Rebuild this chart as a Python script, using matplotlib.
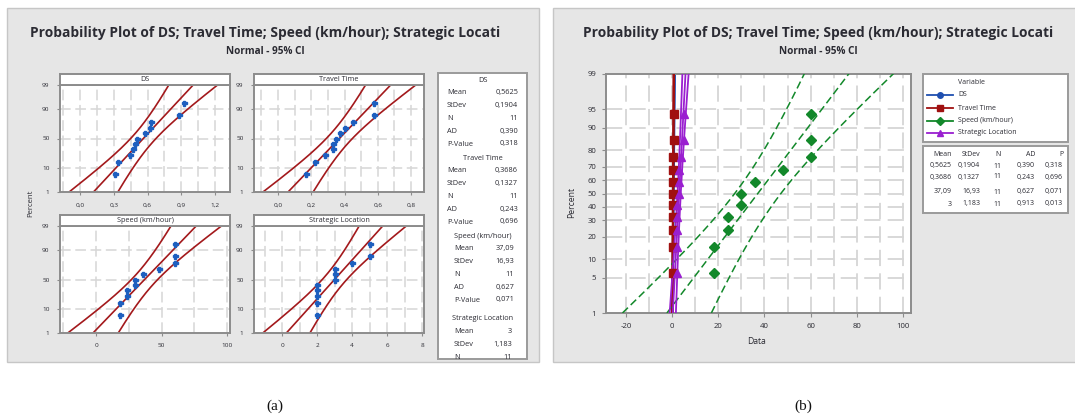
import matplotlib
matplotlib.use("Agg")
import matplotlib.pyplot as plt
from matplotlib.patches import Rectangle
from matplotlib.lines import Line2D
from statistics import NormalDist
import numpy as np

plt.rcParams['font.family'] = ['Open Sans', 'DejaVu Sans']

# ---------------- data ----------------
title = "Probability Plot of DS; Travel Time; Speed (km/hour); Strategic Locati"
subtitle = "Normal - 95% CI"
variables = ["DS", "Travel Time", "Speed (km/hour)", "Strategic Location"]
ds_values = [0.31, 0.335, 0.44, 0.47, 0.49, 0.51, 0.575, 0.62, 0.63, 0.88, 0.925]
travel_values = [0.17, 0.22, 0.28, 0.33, 0.33, 0.35, 0.37, 0.40, 0.45, 0.58, 0.58]
speed_values = [18, 18, 24, 24, 30, 30, 36, 48, 60, 60, 60]
strategic_values = [2, 2, 2, 2, 2, 3, 3, 3, 4, 5, 5]
percent_positions = [6.1, 14.9, 23.7, 32.5, 41.2, 50.0, 58.8, 67.5, 76.3, 85.1, 93.9]
means = [0.5625, 0.3686, 37.09, 3.0]
stdevs = [0.1904, 0.1327, 16.93, 1.183]
n_obs = [11, 11, 11, 11]
mean_labels = ["0,5625", "0,3686", "37,09", "3"]
stdev_labels = ["0,1904", "0,1327", "16,93", "1,183"]
ad_labels = ["0,390", "0,243", "0,627", "0,913"]
p_labels = ["0,318", "0,696", "0,071", "0,013"]
small_xticks = [[0, 0.3, 0.6, 0.9, 1.2], [0, 0.2, 0.4, 0.6, 0.8], [0, 50, 100], [0, 2, 4, 6, 8]]
small_xticklabels = [["0,0", "0,3", "0,6", "0,9", "1,2"], ["0,0", "0,2", "0,4", "0,6", "0,8"],
                     ["0", "50", "100"], ["0", "2", "4", "6", "8"]]
small_yticks = [1, 10, 50, 90, 99]
big_yticks = [1, 5, 10, 20, 30, 40, 50, 60, 70, 80, 90, 95, 99]
big_xticks = [-20, 0, 20, 40, 60, 80, 100]
series_values = [ds_values, travel_values, speed_values, strategic_values]

# ---------------- helpers ----------------
W, H = 1075, 420
fig = plt.figure(figsize=(W / 100, H / 100), dpi=100)
nd = NormalDist()


def zq(p):
    return nd.inv_cdf(p / 100.0)


ZLO, ZHI = zq(1), zq(99)
TXT = '#2b2b33'
SPINE = '#8c8c8c'
GRID = '#d6d6d6'


def px_axes(x0, y0, x1, y1, **kw):
    return fig.add_axes([x0 / W, 1 - y1 / H, (x1 - x0) / W, (y1 - y0) / H], **kw)


def fit_and_ci(mean, sd, n, zhi=None):
    zz = np.linspace(ZLO, ZHI if zhi is None else zhi, 200)
    fit = mean + sd * zz
    half = 1.96 * sd * np.sqrt(1.0 / n + zz ** 2 / (2.0 * n))
    return zz, fit, fit - half, fit + half


# background layer in pixel coordinates
bg = fig.add_axes([0, 0, 1, 1])
bg.set_xlim(0, W)
bg.set_ylim(H, 0)
bg.axis('off')
bg.add_patch(Rectangle((7, 8), 532, 354, fc='#e6e6e6', ec='#c6c6c6', lw=1))
bg.add_patch(Rectangle((553, 8), 540, 354, fc='#e6e6e6', ec='#c6c6c6', lw=1))

for cx in (265, 818):
    bg.text(cx, 33, title, ha='center', va='center', fontsize=9.9, weight='bold', color=TXT)
    bg.text(cx, 51, subtitle, ha='center', va='center', fontsize=7.2, weight='bold', color=TXT)

bg.text(275, 406, "(a)", ha='center', va='center', fontsize=11, family='Liberation Serif', color='#111111')
bg.text(803, 406, "(b)", ha='center', va='center', fontsize=11, family='Liberation Serif', color='#111111')

# ---------------- panel (a) ----------------
small_boxes = [(60, 85, 230, 192), (254, 85, 424, 192), (60, 226, 230, 333), (254, 226, 424, 333)]
small_xlims = [(-0.178, 1.333), (-0.145, 0.878), (-27.5, 102.3), (-1.6, 8.11)]
for i, (x0, y0, x1, y1) in enumerate(small_boxes):
    ax = px_axes(x0, y0, x1, y1)
    ax.set_facecolor('white')
    ax.set_xlim(*small_xlims[i])
    ax.set_ylim(ZLO, ZHI)
    ticks = small_xticks[i]
    step = (ticks[1] - ticks[0]) / 2
    gx = np.arange(ticks[0] - 2 * step, ticks[-1] + 2 * step + 1e-9, step)
    for g in gx:
        ax.axvline(g, color=GRID, lw=1.1, ls=(0, (7, 3)), zorder=0)
    for p in small_yticks[1:-1]:
        ax.axhline(zq(p), color=GRID, lw=1.1, ls=(0, (7, 3)), zorder=0)
    zz, fit, lo, hi = fit_and_ci(means[i], stdevs[i], n_obs[i])
    for arr in (fit, lo, hi):
        ax.plot(arr, zz, color='#a3191c', lw=1.2, zorder=2)
    ax.plot(series_values[i], [zq(p) for p in percent_positions], ls='none', marker='P',
            ms=3.6, color='#1d5fbf', mec='#1d5fbf', zorder=3)
    ax.set_xticks(ticks)
    ax.set_xticklabels(small_xticklabels[i])
    ax.set_yticks([zq(p) for p in small_yticks])
    ax.set_yticklabels([str(p) for p in small_yticks])
    ax.tick_params(labelsize=4.6, colors=SPINE, labelcolor=TXT, length=2.5, width=0.8, pad=5)
    for s in ax.spines.values():
        s.set_color(SPINE)
        s.set_linewidth(1.4)
    # strip header
    sx = px_axes(x0, y0 - 11, x1, y0)
    sx.set_facecolor('white')
    sx.set_xticks([])
    sx.set_yticks([])
    for s in sx.spines.values():
        s.set_color(SPINE)
        s.set_linewidth(1.4)
    sx.text(0.5, 0.5, variables[i], transform=sx.transAxes, ha='center', va='center',
            fontsize=5.2, color=TXT)

bg.text(31, 203, "Percent", rotation=90, ha='center', va='center', fontsize=5.6, color=TXT)

# stats box (a)
boxA = Rectangle((438, 73), 89, 286, fc='white', ec='#9a9a9a', lw=1.4)
bg.add_patch(boxA)
section_y = [80, 158, 236, 319]
label_x = [447, 447, 454, 454]
value_x = [518, 518, 514, 512]
row_names = ["Mean", "StDev", "N", "AD", "P-Value"]
for i in range(4):
    t = bg.text(483, section_y[i], variables[i], ha='center', va='center', fontsize=5.3, color=TXT)
    vals = [mean_labels[i], stdev_labels[i], str(n_obs[i]), ad_labels[i], p_labels[i]]
    for k, (nm, v) in enumerate(zip(row_names, vals)):
        y = section_y[i] + 12.6 * (k + 1) + (1 if k >= 2 else 0)
        if y > 362:
            continue
        t1 = bg.text(label_x[i], y, nm, ha='left', va='center', fontsize=5.3, color=TXT)
        t2 = bg.text(value_x[i], y, v, ha='right', va='center', fontsize=5.3, color=TXT)
        t1.set_clip_path(boxA)
        t2.set_clip_path(boxA)

# ---------------- panel (b) ----------------
colors = ['#1f4fb0', '#a01010', '#12882a', '#9a1fd0']
markers = ['o', 's', 'D', '^']
lstyles = ['-', '-', (0, (5, 2.5)), '-']
msizes = [4.5, 5.5, 5.0, 5.5]

axb = px_axes(606, 74, 911, 313)
axb.set_facecolor('white')
axb.set_xlim(-28.7, 103.5)
axb.set_ylim(ZLO, ZHI)
for g in np.arange(-30, 110, 10):
    axb.axvline(g, color=GRID, lw=1.3, ls=(0, (9, 4)), zorder=0)
for p in big_yticks[1:-1]:
    axb.axhline(zq(p), color=GRID, lw=1.3, ls=(0, (9, 4)), zorder=0)
for i in range(4):
    zz, fit, lo, hi = fit_and_ci(means[i], stdevs[i], n_obs[i], zhi=2.6)
    for arr in (fit, lo, hi):
        axb.plot(arr, zz, color=colors[i], lw=1.3 if i != 2 else 1.1, ls=lstyles[i], zorder=2 + i)
for i in range(4):
    axb.plot(series_values[i], [zq(p) for p in percent_positions], ls='none', marker=markers[i],
             ms=msizes[i], color=colors[i], zorder=7 + i)
axb.set_xticks(big_xticks)
axb.set_xticklabels([str(v) for v in big_xticks])
axb.set_yticks([zq(p) for p in big_yticks])
axb.set_yticklabels([str(p) for p in big_yticks])
axb.tick_params(labelsize=5.6, colors=SPINE, labelcolor=TXT, length=3, width=0.8, pad=4)
for s in axb.spines.values():
    s.set_color(SPINE)
    s.set_linewidth(1.4)
bg.text(572, 202, "Percent", rotation=90, ha='center', va='center', fontsize=6.2, color=TXT)
bg.text(757, 341, "Data", ha='center', va='center', fontsize=6.2, color=TXT)

# legend (b)
bg.add_patch(Rectangle((923, 74), 145, 68, fc='white', ec='#9a9a9a', lw=1.4))
bg.text(958, 83, "Variable", ha='left', va='center', fontsize=5.0, color=TXT)
leg_y = [95, 108, 121, 133]
for i in range(4):
    bg.add_line(Line2D([927, 953], [leg_y[i], leg_y[i]], color=colors[i], lw=1.3))
    bg.plot([940], [leg_y[i]], marker=markers[i], ms=msizes[i] - 0.5, color=colors[i])
    bg.text(958, leg_y[i], variables[i], ha='left', va='center', fontsize=5.0, color=TXT)

# stats table (b)
bg.add_patch(Rectangle((923, 146), 145, 67, fc='white', ec='#9a9a9a', lw=1.4))
col_x = [952, 980, 1001, 1035, 1063]
headers = ["Mean", "StDev", "N", "AD", "P"]
for c, hname in enumerate(headers):
    bg.text(col_x[c], 154, hname, ha='right', va='center', fontsize=5.0, color=TXT)
row_y = [166, 177, 192, 204]
for i in range(4):
    vals = [mean_labels[i], stdev_labels[i], str(n_obs[i]), ad_labels[i], p_labels[i]]
    for c, v in enumerate(vals):
        bg.text(col_x[c], row_y[i], v, ha='right', va='center', fontsize=5.0, color=TXT)

fig.savefig("out.png", dpi=100)
